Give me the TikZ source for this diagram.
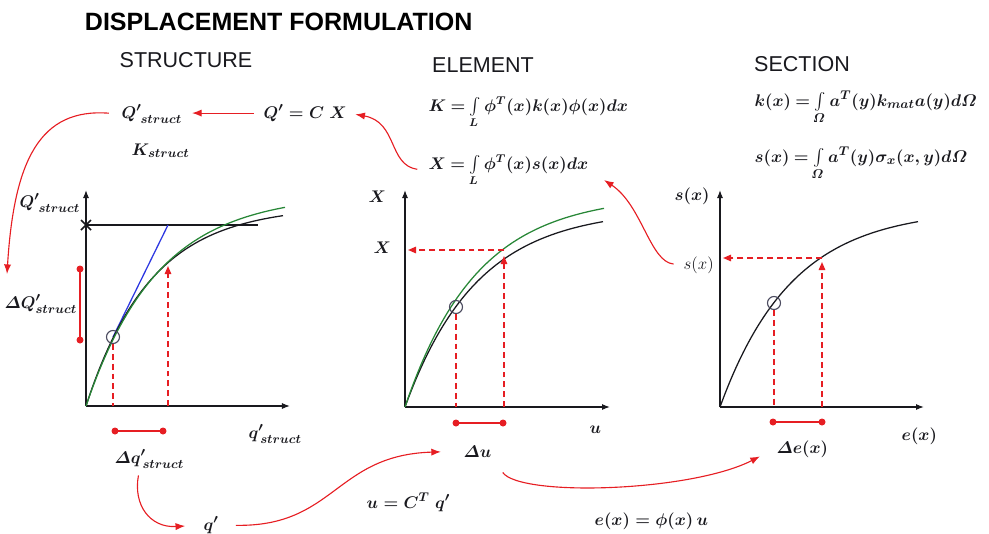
\documentclass[tikz,border=0pt]{standalone}
\usepackage{amsmath}
\usepackage{fontspec}
\newfontfamily\headfont{Liberation Sans}
\usetikzlibrary{arrows.meta}
\definecolor{flowred}{RGB}{230,30,35}
\definecolor{leaf}{RGB}{40,135,55}
\definecolor{tangent}{RGB}{45,55,225}
\definecolor{ink}{RGB}{25,25,30}
\definecolor{slate}{RGB}{75,75,95}
\tikzset{
  >={Latex[length=2.4mm,width=1.8mm]},
  axis/.style={-{Latex[length=2mm,width=1.5mm]},line width=0.8pt,draw=ink},
  curve/.style={line width=0.9pt,draw=#1},
  curve/.default=ink,
  guide/.style={flowred,line width=1.1pt,dash pattern=on 4.2pt off 2.8pt},
  guide arrow/.style={guide,-{Triangle[length=2mm,width=1.6mm]}},
  flow/.style={->,flowred,line width=0.8pt},
  span/.style={flowred,line width=1.1pt},
  lbl/.style={font=\fontsize{12.5}{15}\selectfont\boldmath,text=ink,inner sep=1pt,anchor=base west},
  intg/.style={lbl,font={\fontsize{12}{14}\selectfont\boldmath\thickmuskip=4mu}},
  head/.style={font=\headfont\fontsize{15.3}{18}\selectfont,text=ink},
  marker/.style={draw=slate,line width=0.8pt},
}

\begin{document}
\begin{tikzpicture}[x=0.025cm,y=-0.025cm]
  \useasboundingbox (0,0) rectangle (989,534);
  \node[anchor=west,font=\headfont\bfseries\fontsize{17.8}{20}\selectfont,text=black] (title) at (80,22) {DISPLACEMENT FORMULATION};
  \node[head] (hstruct) at (186,60) {STRUCTURE};
  \node[head] (helem) at (483,65) {ELEMENT};
  \node[head] (hsec) at (802,64) {SECTION};

  % structure level
  \node[lbl] (qst) at (120,118) {$Q'_{\;struct}$};
  \node[lbl] (kst) at (130,155) {$K_{struct}$};
  \node[lbl] (qcx) at (262,118) {$Q'=C\;X$};

  % element and section integrals
  \node[intg] (kint) at (427,111) {$K=\int\limits_L\phi^T(x)k(x)\phi(x)dx$};
  \node[intg] (xint) at (427,169) {$X=\int\limits_L\phi^T(x)s(x)dx$};
  \node[intg,font={\fontsize{12.5}{14}\selectfont\boldmath\thickmuskip=4mu}] (ksec) at (753,106) {$k(x)=\int\limits_{\varOmega}a^T(y)k_{mat}a(y)d\varOmega$};
  \node[intg,font={\fontsize{12.5}{14}\selectfont\boldmath\thickmuskip=4mu}] (ssec) at (753,162) {$s(x)=\int\limits_{\varOmega}a^T(y)\sigma_x(x,y)d\varOmega$};

  % structure plot
  \coordinate (o1) at (86,406);
  \draw[axis] (o1) -- ++(0,-216);
  \draw[axis] (o1) -- ++(204,0);
  \draw[ink,line width=0.8pt] (86,225) -- (258,225);
  \draw[ink,line width=1.1pt] (81,220) -- (91,230) (81,230) -- (91,220);
  \draw[curve=tangent] (113,337) -- (168,225);
  \draw[curve] plot[domain=0:197,samples=60,smooth] ({86+\x},{406-200*(1-exp(-\x/65))});
  \draw[curve=leaf] plot[domain=0:199,samples=60,smooth] ({86+\x},{406-212*(1-exp(-\x/72))});
  \draw[marker] (113,337) circle (6.5);
  \draw[guide] (113,344) -- (113,406);
  \draw[guide arrow] (168,406) -- (168,266);
  \node[lbl] (qax) at (18,207) {$Q'_{\;struct}$};
  \node[lbl] (dQ) at (3,308) {$\varDelta Q'_{struct}$};
  \node[lbl] (dqs) at (113,463) {$\varDelta q'_{\,struct}$};
  \node[lbl] (qsx) at (247,438) {$q'_{\,struct}$};

  % element plot
  \coordinate (o2) at (405,407);
  \draw[axis] (o2) -- ++(0,-217);
  \draw[axis] (o2) -- ++(205,0);
  \draw[curve] plot[domain=0:198,samples=60,smooth] ({405+\x},{407-198*(1-exp(-\x/72))});
  \draw[curve=leaf] plot[domain=0:199,samples=60,smooth] ({405+\x},{407-212*(1-exp(-\x/72))});
  \draw[marker] (456,307) circle (6.5);
  \draw[guide] (456,314) -- (456,407);
  \draw[guide arrow] (504,407) -- (504,256);
  \draw[guide arrow] (504,250) -- (408,250);
  \node[lbl] (xax) at (367,202) {$X$};
  \node[lbl] (xtick) at (372,253) {$X$};
  \node[lbl] (du) at (462,457) {$\varDelta u$};
  \node[lbl] (uax) at (588,433) {$u$};

  % section plot
  \coordinate (o3) at (720,407);
  \draw[axis] (o3) -- ++(0,-217);
  \draw[axis] (o3) -- ++(204,0);
  \draw[curve] plot[domain=0:198,samples=60,smooth] ({720+\x},{407-198*(1-exp(-\x/72))});
  \draw[marker] (774,303) circle (6.5);
  \draw[guide] (774,310) -- (774,407);
  \draw[guide arrow] (822,407) -- (822,262);
  \draw[guide arrow] (822,258) -- (723,258);
  \node[lbl] (sax) at (673,200) {$s(x)$};
  \node[lbl,font=\fontsize{12.5}{15}\selectfont] (stick) at (682,269) {$s(x)$};
  \node[lbl] (de) at (775,453) {$\varDelta e(x)$};
  \node[lbl] (eax) at (900,440) {$e(x)$};

  % intervals
  \draw[span] (80,269) -- (80,340);
  \draw[span] (115,431) -- (163,431);
  \draw[span] (456,423) -- (503,423);
  \draw[span] (773,422) -- (822,422);
  \foreach \pt in {(80,269),(80,340),(115,431),(163,431),(456,423),(503,423),(773,422),(822,422)}
    \fill[flowred] \pt circle (3.5);

  % bottom relations
  \node[lbl] (qp) at (202,530) {$q'$};
  \node[lbl] (uct) at (365,508) {$u=C^T\;q'$};
  \node[lbl] (ephi) at (593,525) {$e(x)=\phi(x)\,u$};

  % red flow
  \coordinate (qdown) at (7,274);
  \draw[flow,shorten <=6pt,shorten >=6pt] (qcx.west) -- (qst.east |- qcx.west);
  \draw[flow,shorten <=8pt] (qst.west) .. controls (40,108) and (14,160) .. (qdown);
  \draw[flow,shorten <=7pt,shorten >=5pt] (xint.west) .. controls (388,165) and (398,122) .. (qcx.east);
  \draw[flow,shorten <=6pt,shorten >=12pt] (stick.west) .. controls (650,262) and (642,205) .. (xint.east);
  \draw[flow,shorten <=4pt,shorten >=12pt] ([xshift=-7pt]dqs.south) .. controls (133,505) and (150,528) .. (qp.west);
  \draw[flow,shorten <=11pt,shorten >=15pt] (qp.east) .. controls (335,527) and (335,455) .. (du.west);
  \draw[flow,shorten <=12pt,shorten >=12pt] (du.south east) .. controls (520,497) and (690,492) .. (de.west);
\end{tikzpicture}
\end{document}
